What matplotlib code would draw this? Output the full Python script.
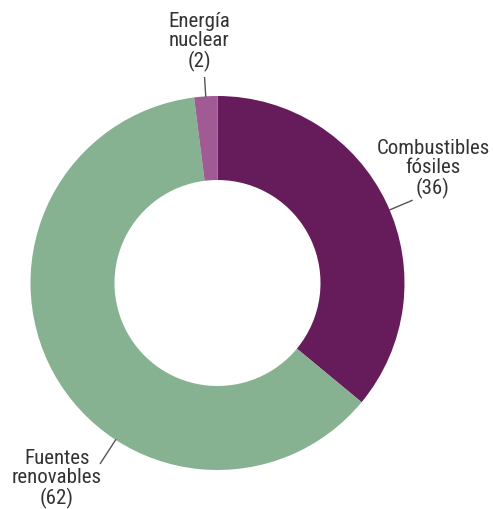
import numpy as np
import matplotlib
matplotlib.use("Agg")
import matplotlib.pyplot as plt

# energy sources, share in percent
fuentes = ["Combustibles\nfósiles", "Fuentes\nrenovables", "Energía\nnuclear"]
valores = [36, 62, 2]
colores = ["#661c5a", "#87b291", "#a05a94"]

plt.rcParams['font.family'] = ['Roboto Condensed', 'DejaVu Sans']

W, H = 493, 509
fig = plt.figure(figsize=(W / 100, H / 100), dpi=100)
ax = fig.add_axes([0, 0, 1, 1])

cx, cy = 217.5, H - 283
R = 187
wedges, _ = ax.pie(valores, colors=colores, startangle=90, counterclock=False,
                   center=(cx, cy), radius=R,
                   wedgeprops=dict(width=84, linewidth=0))
ax.set_xlim(0, W)
ax.set_ylim(0, H)
ax.set_aspect('equal')
ax.axis('off')

# leader line angle (deg), inner/outer radius factor, text position
etiquetas = [
    (23, 1.0, 1.13, (433, H - 169)),
    (-123, 1.0, 1.15, (57, H - 479)),
    (None, 1.0, 1.1, (199, H - 42)),
]
for w, v, nombre, (ang, r0, r1, pos) in zip(wedges, valores, fuentes, etiquetas):
    if ang is None:
        ang = (w.theta1 + w.theta2) / 2
    a = np.deg2rad(ang)
    ax.plot([cx + R * r0 * np.cos(a), cx + R * r1 * np.cos(a)],
            [cy + R * r0 * np.sin(a), cy + R * r1 * np.sin(a)],
            color="#555555", lw=1)
    ax.text(pos[0], pos[1], f"{nombre}\n({v})", ha="center", va="center",
            fontsize=15, color="#333333", linespacing=1.0)

fig.savefig("out.png", dpi=100)
